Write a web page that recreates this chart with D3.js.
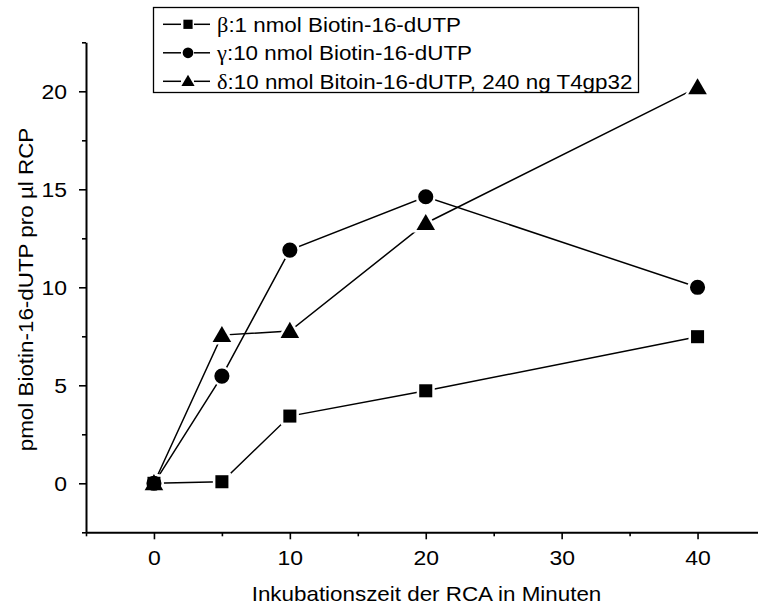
<!DOCTYPE html>
<html><head><meta charset="utf-8">
<script src="https://cdn.jsdelivr.net/npm/d3@7"></script>
<style>body{margin:0;background:#fff}</style>
</head><body>
<svg id="c" width="758" height="608"></svg>
<script>
const times = [0, 5, 10, 20, 40];
const betaVals = [0, 0.08, 3.43, 4.72, 7.48];
const gammaVals = [0, 5.47, 11.9, 14.62, 10.0];
const deltaVals = [0, 7.56, 7.77, 13.27, 20.2];
const seriesNames = ["β", "γ", "δ"];
const seriesLabels = [":1 nmol Biotin-16-dUTP", ":10 nmol Biotin-16-dUTP", ":10 nmol Bitoin-16-dUTP, 240 ng T4gp32"];
const seriesSymbols = ["square", "circle", "triangle"];
const xTicks = [0, 10, 20, 30, 40];
const yTicks = [0, 5, 10, 15, 20];
const xTitle = "Inkubationszeit der RCA in Minuten";
const yTitle = "pmol Biotin-16-dUTP pro µl RCP";

const svg = d3.select("#c");
const font = "Liberation Sans, Arial, sans-serif";
const SX = 1.12;   // horizontal text stretch seen in the reference
const x = d3.scaleLinear().domain([-5, 45]).range([86, 765.5]);
const y = d3.scaleLinear().domain([-2.5, 22.5]).range([532.3, 42.3]);

const symMap = {square: d3.symbolSquare, circle: d3.symbolCircle, triangle: d3.symbolTriangle};
const symSize = {square: 170, circle: 180, triangle: 150};

// axes
const xAxis = d3.axisBottom(x).tickValues(xTicks).tickSize(7).tickFormat(d3.format("d")).tickSizeOuter(0);
const gx = svg.append("g").attr("transform", `translate(0,${y(-2.5)})`).call(xAxis);
gx.select(".domain").attr("stroke-width", 2);
gx.selectAll(".tick line").attr("stroke-width", 1.6);
gx.selectAll("text").attr("font-family", font).attr("font-size", 20.5).attr("fill", "#000")
  .attr("y", 33).attr("dy", 0).attr("transform", `scale(${SX},1)`);
const xMinor = d3.axisBottom(x).tickValues([-5, 5, 15, 25, 35, 45]).tickSize(4).tickFormat("").tickSizeOuter(0);
const gxm = svg.append("g").attr("transform", `translate(0,${y(-2.5)})`).call(xMinor);
gxm.select(".domain").remove();
gxm.selectAll(".tick line").attr("stroke-width", 1.6);

const yAxis = d3.axisLeft(y).tickValues(yTicks).tickSize(7).tickFormat(d3.format("d")).tickSizeOuter(0);
const gy = svg.append("g").attr("transform", `translate(${x(-5)},0)`).call(yAxis);
gy.select(".domain").attr("stroke-width", 2);
gy.selectAll(".tick line").attr("stroke-width", 1.6);
gy.selectAll("text").attr("font-family", font).attr("font-size", 20.5).attr("fill", "#000")
  .attr("x", -19 / SX).attr("dy", "0.36em").attr("transform", `scale(${SX},1)`);
const yMinor = d3.axisLeft(y).tickValues([-2.5, 2.5, 7.5, 12.5, 17.5, 22.5]).tickSize(4).tickFormat("").tickSizeOuter(0);
const gym = svg.append("g").attr("transform", `translate(${x(-5)},0)`).call(yMinor);
gym.select(".domain").remove();
gym.selectAll(".tick line").attr("stroke-width", 1.6);

// titles
svg.append("text").attr("transform", `translate(426.5,601) scale(${SX},1)`).attr("text-anchor", "middle")
  .attr("font-family", font).attr("font-size", 20).text(xTitle);
svg.append("text").attr("transform", `translate(33,289.5) rotate(-90) scale(${SX},1)`).attr("text-anchor", "middle")
  .attr("font-family", font).attr("font-size", 20).text(yTitle);

// series
const series = [betaVals, gammaVals, deltaVals];
const line = d3.line().x((d, i) => x(times[i])).y(d => y(d));
series.forEach((vals, k) => {
  svg.append("path").attr("d", line(vals)).attr("fill", "none").attr("stroke", "#000").attr("stroke-width", 1.5);
});
series.forEach((vals, k) => {
  const s = seriesSymbols[k];
  svg.selectAll(null).data(vals).enter().append("path")
    .attr("d", d3.symbol(symMap[s], symSize[s]))
    .attr("transform", (d, i) => `translate(${x(times[i])},${y(d) + (s === "triangle" ? 1.5 : 0)})`)
    .attr("fill", "#fff").attr("stroke", "#fff").attr("stroke-width", 5);
});
series.forEach((vals, k) => {
  const s = seriesSymbols[k];
  svg.selectAll(null).data(vals).enter().append("path")
    .attr("d", d3.symbol(symMap[s], symSize[s]))
    .attr("transform", (d, i) => `translate(${x(times[i])},${y(d) + (s === "triangle" ? 1.5 : 0)})`)
    .attr("fill", "#000");
});

// legend
const lg = svg.append("g");
lg.append("rect").attr("x", 153.5).attr("y", 7.5).attr("width", 485).attr("height", 85)
  .attr("fill", "#fff").attr("stroke", "#000").attr("stroke-width", 1.3);
const rowY = [24.3, 52.8, 81.3];
seriesNames.forEach((nm, k) => {
  const cy = rowY[k];
  lg.append("line").attr("x1", 163).attr("x2", 181).attr("y1", cy).attr("y2", cy).attr("stroke", "#000").attr("stroke-width", 1.5);
  lg.append("line").attr("x1", 194).attr("x2", 210).attr("y1", cy).attr("y2", cy).attr("stroke", "#000").attr("stroke-width", 1.5);
  const s = seriesSymbols[k];
  lg.append("path").attr("d", d3.symbol(symMap[s], symSize[s] * 0.5))
    .attr("transform", `translate(188,${cy + (s === "triangle" ? 1 : 0)})`).attr("fill", "#000");
  const t = lg.append("text").attr("transform", `translate(217,${cy + 7.3}) scale(${SX},1)`)
    .attr("font-family", font).attr("font-size", 20);
  t.append("tspan").attr("font-family", "Liberation Serif, serif").text(nm);
  t.append("tspan").text(seriesLabels[k]);
});
</script>
</body></html>
